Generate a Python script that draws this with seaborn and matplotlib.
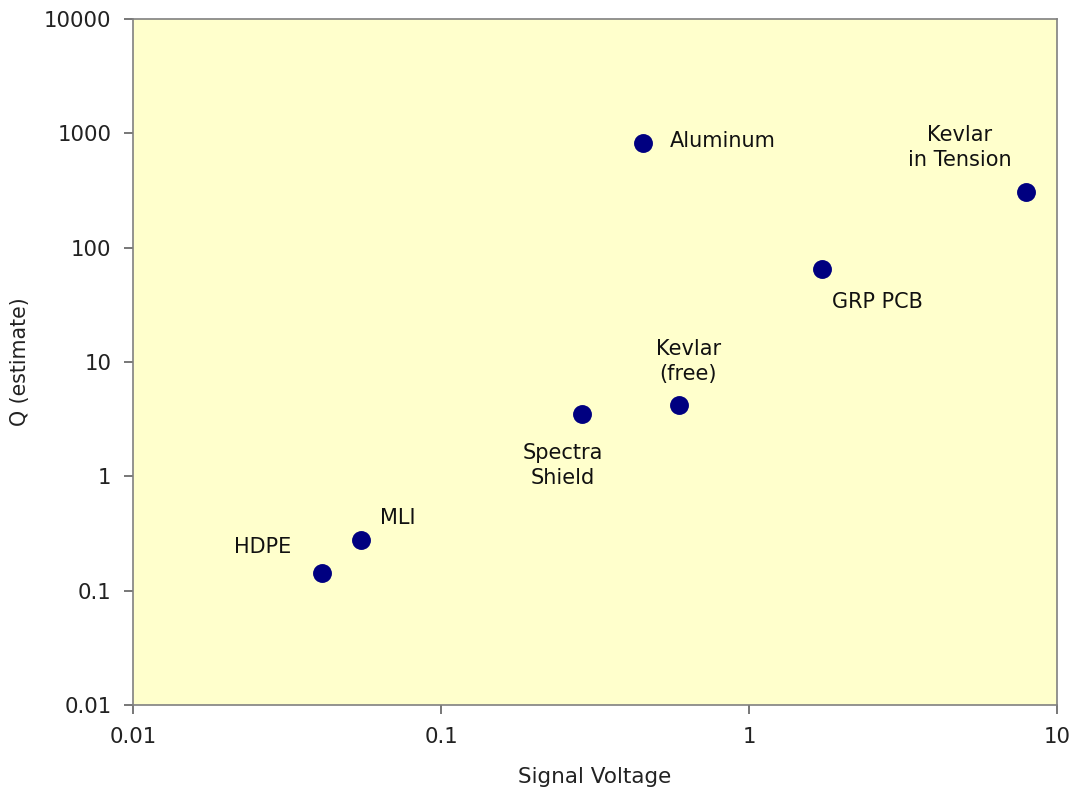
import matplotlib
matplotlib.use('Agg')
import matplotlib.pyplot as plt
import seaborn as sns
import pandas as pd

materials = ['HDPE', 'MLI', 'Spectra\nShield', 'Kevlar\n(free)', 'Aluminum', 'GRP PCB', 'Kevlar\nin Tension']
voltage = [0.041, 0.055, 0.288, 0.594, 0.454, 1.73, 7.93]
q_est = [0.142, 0.277, 3.5, 4.2, 820, 65, 306]

x_ticks = [0.01, 0.1, 1, 10]
x_labels = ['0.01', '0.1', '1', '10']
y_ticks = [0.01, 0.1, 1, 10, 100, 1000, 10000]
y_labels = ['0.01', '0.1', '1', '10', '100', '1000', '10000']

df = pd.DataFrame({'Material': materials, 'Signal Voltage': voltage, 'Q': q_est})

sns.set_style('white')
plt.rcParams['font.family'] = ['DejaVu Sans']

fig = plt.figure(figsize=(10.75, 7.9), dpi=100)
ax = fig.add_axes([133 / 1075, 1 - 705 / 790, (1057 - 133) / 1075, (705 - 19) / 790])

sns.scatterplot(data=df, x='Signal Voltage', y='Q', ax=ax, s=185, color='#000080',
                edgecolor='#000080', linewidth=0, zorder=3)

ax.set_xscale('log')
ax.set_yscale('log')
ax.set_xlim(0.01, 10)
ax.set_ylim(0.01, 10000)
ax.set_xticks(x_ticks)
ax.set_xticklabels(x_labels)
ax.set_yticks(y_ticks)
ax.set_yticklabels(y_labels)
ax.minorticks_off()
ax.set_facecolor('#FFFFCC')
for sp in ax.spines.values():
    sp.set_color('#808080')
    sp.set_linewidth(1.2)

ax.tick_params(axis='both', which='major', direction='out', length=6.5, width=1.2,
               color='#606060', labelsize=15.3, labelcolor='#222222',
               bottom=True, left=True)
ax.tick_params(axis='y', pad=9)
ax.tick_params(axis='x', pad=9)

ax.set_xlabel('Signal Voltage', fontsize=15.5, color='#222222', labelpad=15)
ax.set_ylabel('Q (estimate)', fontsize=14.8, color='#222222', labelpad=10)

# label offsets in pixels relative to each point
offsets = {
    'HDPE': (-59, 26, 'center'),
    'MLI': (19, 22, 'left'),
    'Spectra\nShield': (-20, -51, 'center'),
    'Kevlar\n(free)': (9, 44, 'center'),
    'Aluminum': (26, 2, 'left'),
    'GRP PCB': (10, -33, 'left'),
    'Kevlar\nin Tension': (-66, 45, 'center'),
}
for m, xv, yv in zip(materials, voltage, q_est):
    dx, dy, ha = offsets[m]
    ax.annotate(m, (xv, yv), xytext=(dx, dy), textcoords='offset pixels',
                ha=ha, va='center', fontsize=15, color='#111111',
                linespacing=1.32)

plt.savefig('out.png', dpi=100)
